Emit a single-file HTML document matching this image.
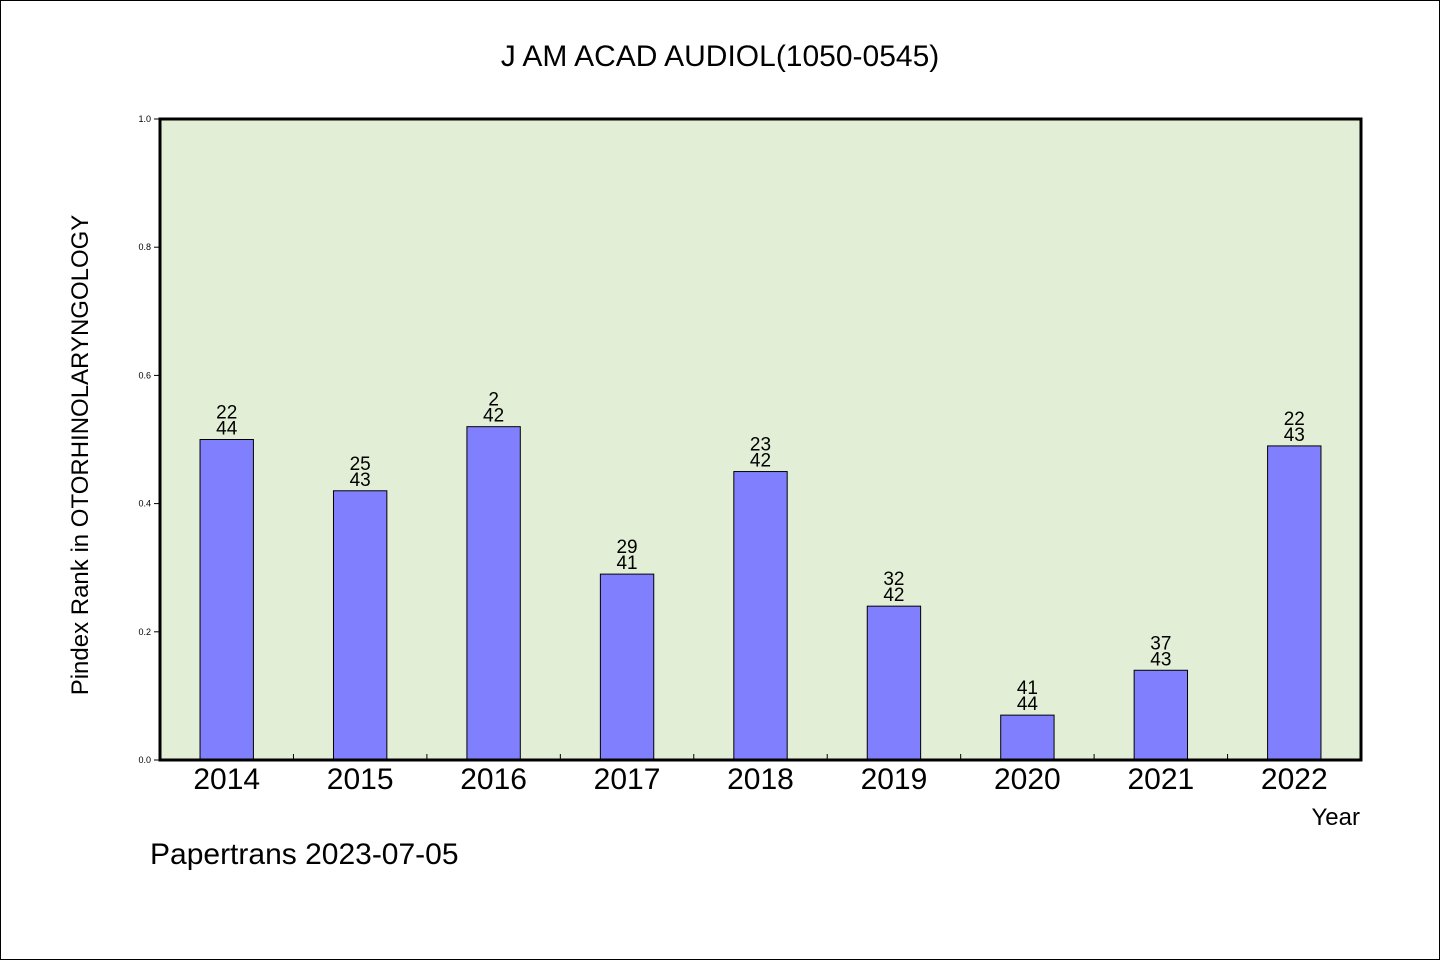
<!DOCTYPE html>
<html><head><meta charset="utf-8"><style>
html,body{margin:0;padding:0;background:#fff}
svg{display:block}
text{font-family:"WenQuanYi Zen Hei","Liberation Sans",sans-serif}
</style></head><body>
<svg id="chart" width="1440" height="960">
<rect x="0.5" y="0.5" width="1439" height="959" fill="#fff" stroke="#000"/>
<text x="720" y="66" font-size="30" text-anchor="middle">J AM ACAD AUDIOL(1050-0545)</text>
<rect x="160" y="119" width="1201" height="641" fill="#e2efd6"/>
<g id="bars"></g>
<g id="axes"></g>
<rect x="160" y="119" width="1201" height="641" fill="none" stroke="#000" stroke-width="3"/>
<text x="1360" y="825" font-size="24" text-anchor="end">Year</text>
<text transform="translate(88,455) rotate(-90)" font-size="24" text-anchor="middle">Pindex Rank in OTORHINOLARYNGOLOGY</text>
<text x="150" y="864" font-size="30">Papertrans 2023-07-05</text>
</svg>
<script>
const categories=["2014","2015","2016","2017","2018","2019","2020","2021","2022"];
const values=[0.5,0.42,0.52,0.29,0.45,0.24,0.07,0.14,0.49];
const ranks=["22","25","2","29","23","32","41","37","22"];
const totals=["44","43","42","41","42","42","44","43","43"];
const yTicks=[0,0.2,0.4,0.6,0.8,1.0];
const NS="http://www.w3.org/2000/svg";
const X0=160,X1=1361,Y0=760,Y1=119;
const band=(X1-X0)/categories.length;
const xc=i=>X0+band*(i+0.5);
const y=v=>Y0-(Y0-Y1)*v;
function mk(t,a,p){const e=document.createElementNS(NS,t);for(const k in a)e.setAttribute(k,a[k]);p.appendChild(e);return e;}
const bars=document.getElementById('bars'),axes=document.getElementById('axes');
const bw=band*0.4;
values.forEach((v,i)=>{
 const r=mk('rect',{x:xc(i)-bw/2,y:y(v),width:bw,height:Y0-y(v),fill:'#8080ff',stroke:'#000','stroke-width':1},bars);
 
 
 const t1=mk('text',{x:xc(i),y:y(v)-21,'font-size':19,'text-anchor':'middle'},bars);t1.textContent=ranks[i];
 
 
 const t2=mk('text',{x:xc(i),y:y(v)-5,'font-size':19,'text-anchor':'middle'},bars);t2.textContent=totals[i];
 
 
 const xl=mk('text',{x:xc(i),y:789,'font-size':30,'text-anchor':'middle'},axes);xl.textContent=categories[i];
 
 
 if(i>0){const tk=mk('line',{x1:X0+band*i,x2:X0+band*i,y1:Y0,y2:Y0-6,stroke:'#000'},axes);
 
 }
});
yTicks.forEach(v=>{
 const tk=mk('line',{x1:X0-6,x2:X0,y1:y(v),y2:y(v),stroke:'#000'},axes);
 
 
 const l=mk('text',{x:X0-9,y:y(v)+3,'font-size':9,'text-anchor':'end','font-family':'Liberation Sans'},axes);l.textContent=v.toFixed(1);
 
 
});
</script>
</body></html>
